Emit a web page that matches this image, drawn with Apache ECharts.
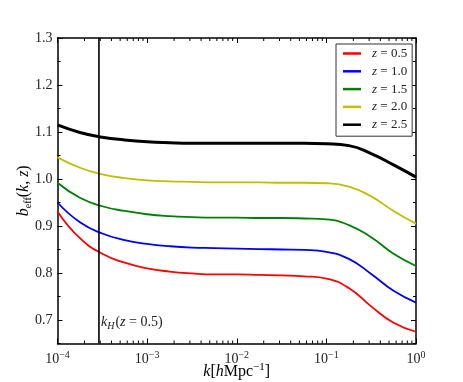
<!DOCTYPE html>
<html>
<head>
<meta charset="utf-8">
<script src="https://cdn.jsdelivr.net/npm/echarts@6/dist/echarts.min.js"></script>
<style>
  html, body { margin: 0; padding: 0; background: #fff; }
  #chart { width: 463px; height: 382px; }
</style>
</head>
<body>
<div id="chart"></div>
<script>
// wavenumbers k [h/Mpc] where the curves were read (quarter decades)
const kValues = [1e-4, 1.78e-4, 3.16e-4, 5.62e-4, 1e-3, 1.78e-3, 3.16e-3, 5.62e-3, 1e-2,
  1.78e-2, 3.16e-2, 5.62e-2, 0.1, 0.178, 0.316, 0.562, 1.0];
const bz05 = [0.931, 0.874, 0.841, 0.822, 0.810, 0.803, 0.799, 0.797, 0.797,
  0.796, 0.795, 0.793, 0.788, 0.768, 0.729, 0.694, 0.675];
const bz10 = [0.950, 0.908, 0.884, 0.870, 0.862, 0.857, 0.854, 0.853, 0.852,
  0.851, 0.850, 0.849, 0.845, 0.830, 0.798, 0.762, 0.737];
const bz15 = [0.992, 0.960, 0.942, 0.932, 0.925, 0.921, 0.919, 0.918, 0.918,
  0.917, 0.917, 0.916, 0.914, 0.902, 0.876, 0.841, 0.815];
const bz20 = [1.046, 1.024, 1.010, 1.002, 0.997, 0.995, 0.994, 0.993, 0.993,
  0.993, 0.992, 0.992, 0.991, 0.984, 0.963, 0.932, 0.905];
const bz25 = [1.115, 1.099, 1.089, 1.083, 1.079, 1.077, 1.076, 1.076, 1.076,
  1.076, 1.076, 1.076, 1.075, 1.071, 1.054, 1.030, 1.004];
const seriesNames = ["0.5", "1.0", "1.5", "2.0", "2.5"];
const seriesColors = ["#ff0000", "#0000ff", "#008000", "#bfbf00", "#000000"];
const kHorizon = 2.9e-4;
const yTicks = [0.7, 0.8, 0.9, 1.0, 1.1, 1.2, 1.3];
const xMinorTicks = [];
for (let d = -4; d < 0; d++) {
  for (let m = 2; m <= 9; m++) xMinorTicks.push(m * Math.pow(10, d));
}

const serif = "'Liberation Serif', 'DejaVu Serif', serif";
const allSeries = [bz05, bz10, bz15, bz20, bz25];

const chart = echarts.init(document.getElementById("chart"));

const lineSeries = allSeries.map((vals, i) => ({
  name: "z = " + seriesNames[i],
  type: "line",
  smooth: 0.5,
  showSymbol: false,
  symbol: "none",
  color: seriesColors[i],
  lineStyle: { color: seriesColors[i], width: i === 4 ? 3 : 1.8 },
  data: kValues.map((k, j) => [k, vals[j]]),
  z: 3,
}));

const axisCommon = {
  axisLine: { show: true, onZero: false, lineStyle: { color: "#000", width: 1.5 } },
  axisTick: { show: true, inside: true, length: 5, lineStyle: { color: "#000" } },
  splitLine: { show: false },
};

const option = {
  animation: false,
  grid: { left: 57.5, right: 47, top: 38, bottom: 38.5, outerBoundsMode: "none" },
  legend: {
    orient: "vertical",
    left: 336,
    top: 44,
    padding: [2.5, 5, 4.5, 7],
    icon: "rect",
    itemWidth: 18,
    itemHeight: 2.5,
    itemGap: 3.8,
    borderColor: "#333",
    borderWidth: 1,
    borderRadius: 0,
    backgroundColor: "#fff",
    data: seriesNames.map((s) => "z = " + s),
    formatter: (name) => "{i|z} = " + name.slice(4),
    textStyle: {
      fontFamily: serif,
      fontSize: 13,
      lineHeight: 14,
      color: "#222",
      padding: [0, 0, 0, 6],
      rich: { i: { fontFamily: serif, fontStyle: "italic", fontSize: 13, lineHeight: 14 } },
    },
  },
  xAxis: [
    {
      type: "log",
      min: 1e-4,
      max: 1,
      logBase: 10,
      ...axisCommon,
      axisLabel: {
        margin: 7,
        fontFamily: serif,
        color: "#000",
        formatter: (v) => "{b|10}{s|" + Math.round(Math.log10(v)).toString().replace("-", "\u2212") + "}",
        rich: {
          b: { fontFamily: serif, fontSize: 14, color: "#222" },
          s: { fontFamily: serif, fontSize: 10, color: "#222", verticalAlign: "bottom", padding: [0, 0, 8, 0] },
        },
      },
      name: "{i|k}[{i|h}Mpc{s|\u22121}]",
      nameLocation: "middle",
      nameGap: 18,
      nameMoveOverlap: false,
      nameTextStyle: {
        fontFamily: serif,
        fontSize: 16,
        color: "#000",
        rich: {
          i: { fontFamily: serif, fontStyle: "italic", fontSize: 16, color: "#000" },
          s: { fontFamily: serif, fontSize: 11, color: "#000", verticalAlign: "bottom", padding: [0, 0, 9, 0] },
        },
      },
    },
    {
      type: "log",
      min: 1e-4,
      max: 1,
      logBase: 10,
      position: "top",
      ...axisCommon,
      axisLabel: { show: false },
    },
  ],
  yAxis: [
    {
      type: "value",
      min: 0.65,
      max: 1.3,
      ...axisCommon,
      axisTick: { show: true, inside: true, length: 5, customValues: yTicks, lineStyle: { color: "#000" } },
      axisLabel: {
        margin: 5,
        fontFamily: serif,
        fontSize: 14,
        color: "#222",
        customValues: yTicks,
        formatter: (v) => v.toFixed(1),
      },
      name: "{i|b}{s|eff}({i|k}, {i|z})",
      nameLocation: "middle",
      nameGap: 24,
      nameMoveOverlap: false,
      nameTextStyle: {
        fontFamily: serif,
        fontSize: 16,
        color: "#000",
        rich: {
          i: { fontFamily: serif, fontStyle: "italic", fontSize: 16, color: "#000" },
          s: { fontFamily: serif, fontSize: 10, color: "#000", verticalAlign: "top", padding: [9, 0, 0, 0] },
        },
      },
    },
    {
      type: "value",
      min: 0.65,
      max: 1.3,
      position: "right",
      ...axisCommon,
      axisTick: { show: true, inside: true, length: 5, customValues: yTicks, lineStyle: { color: "#000" } },
      axisLabel: { show: false },
    },
  ],
  series: [
    ...lineSeries,
    {
      name: "kH",
      type: "line",
      symbol: "none",
      lineStyle: { color: "#000", width: 1.6 },
      data: [[kHorizon, 0.65], [kHorizon, 1.3]],
      z: 4,
    },
    {
      // minor ticks of the log axis (2..9 per decade), bottom and top
      name: "minorTicks",
      type: "custom",
      silent: true,
      z: 5,
      data: xMinorTicks.map((k) => [k]),
      renderItem: (params, api) => {
        const k = api.value(0);
        const b = api.coord([k, 0.65]);
        const t = api.coord([k, 1.3]);
        const style = { stroke: "#000", lineWidth: 1 };
        return {
          type: "group",
          children: [
            { type: "line", shape: { x1: b[0], y1: b[1], x2: b[0], y2: b[1] - 3 }, style },
            { type: "line", shape: { x1: t[0], y1: t[1], x2: t[0], y2: t[1] + 3 }, style },
          ],
        };
      },
    },
    {
      // minor ticks of the y axis (every 0.05), left and right
      name: "yMinorTicks",
      type: "custom",
      silent: true,
      z: 5,
      data: yTicks.map((v) => [v - 0.05]),
      renderItem: (params, api) => {
        const v = api.value(0);
        const l = api.coord([1e-4, v]);
        const r = api.coord([1, v]);
        const style = { stroke: "#000", lineWidth: 1 };
        return {
          type: "group",
          children: [
            { type: "line", shape: { x1: l[0], y1: l[1], x2: l[0] + 3, y2: l[1] }, style },
            { type: "line", shape: { x1: r[0], y1: r[1], x2: r[0] - 3, y2: r[1] }, style },
          ],
        };
      },
    },
  ],
};

option && chart.setOption(option);

// label of the horizon scale, next to the vertical line
const anchor = chart.convertToPixel({ xAxisIndex: 0, yAxisIndex: 0 }, [kHorizon, 0.675]);
chart.setOption({
  graphic: [
    {
      type: "text",
      x: anchor[0] + 2,
      y: anchor[1],
      style: {
        text: "{i|k}{s|H}({i|z} = 0.5)",
        fontFamily: serif,
        fontSize: 14,
        fill: "#222",
        verticalAlign: "bottom",
        rich: {
          i: { fontFamily: serif, fontStyle: "italic", fontSize: 14 },
          s: { fontFamily: serif, fontStyle: "italic", fontSize: 10, verticalAlign: "top", padding: [8, 1, 0, 0] },
        },
      },
    },
  ],
});
</script>
</body>
</html>
